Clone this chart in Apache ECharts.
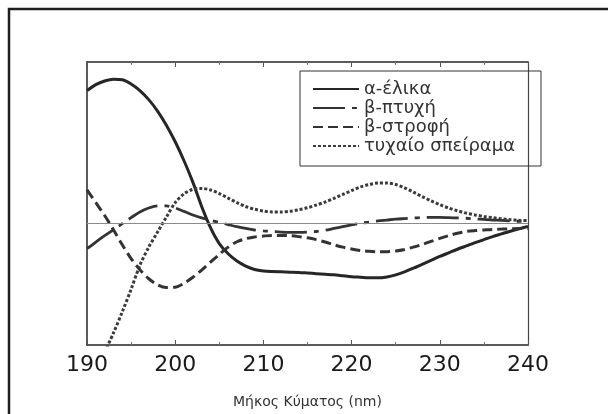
<!DOCTYPE html>
<html lang="el">
<head>
  <meta charset="UTF-8">
  <script src="https://cdn.jsdelivr.net/npm/echarts@6/dist/echarts.min.js"></script>
  <style>
    html, body { margin: 0; padding: 0; background: #fff; }
    #chart { width: 608px; height: 414px; }
  </style>
</head>
<body>
  <div id="chart"></div>
  <script>
    // μήκος κύματος (nm)
    var wavelengths = [190, 191, 192, 193, 194, 195, 196, 197, 198, 199,
                       200, 201, 202, 203, 204, 205, 206, 207, 208, 209,
                       210, 211, 212, 213, 214, 215, 216, 217, 218, 219,
                       220, 221, 222, 223, 224, 225, 226, 227, 228, 229,
                       230, 231, 232, 233, 234, 235, 236, 237, 238, 239, 240];
    var xTicks = [190, 200, 210, 220, 230, 240];

    // τιμές CD (αυθαίρετες μονάδες) διαβασμένες από την εικόνα
    var alphaHelix = [4.4, 4.6, 4.72, 4.78, 4.76, 4.62, 4.4, 4.1, 3.72, 3.25,
                      2.7, 2.07, 1.36, 0.55, -0.15, -0.68, -1.02, -1.26, -1.43, -1.54,
                      -1.59, -1.61, -1.62, -1.63, -1.64, -1.66, -1.68, -1.7, -1.72, -1.75,
                      -1.78, -1.8, -1.82, -1.82, -1.79, -1.72, -1.62, -1.5, -1.37, -1.24,
                      -1.11, -0.99, -0.87, -0.76, -0.65, -0.55, -0.45, -0.36, -0.27, -0.19, -0.11];
    var betaSheet = [-0.85, -0.63, -0.42, -0.22, -0.02, 0.18, 0.37, 0.5, 0.57, 0.57,
                     0.5, 0.39, 0.27, 0.17, 0.09, 0.02, -0.05, -0.12, -0.18, -0.23,
                     -0.26, -0.28, -0.3, -0.31, -0.31, -0.3, -0.28, -0.24, -0.18, -0.12,
                     -0.06, -0.01, 0.03, 0.07, 0.1, 0.13, 0.15, 0.17, 0.18, 0.19,
                     0.19, 0.18, 0.17, 0.16, 0.14, 0.12, 0.1, 0.09, 0.07, 0.06, 0.06];
    var betaTurn = [1.1, 0.68, 0.25, -0.22, -0.72, -1.18, -1.55, -1.85, -2.05, -2.14,
                    -2.13, -2.0, -1.8, -1.56, -1.3, -1.04, -0.8, -0.62, -0.52, -0.46,
                    -0.43, -0.41, -0.41, -0.42, -0.45, -0.49, -0.55, -0.63, -0.72, -0.8,
                    -0.86, -0.91, -0.94, -0.95, -0.95, -0.93, -0.88, -0.8, -0.71, -0.61,
                    -0.51, -0.42, -0.34, -0.28, -0.25, -0.23, -0.21, -0.2, -0.19, -0.18, -0.18];
    var randomCoil = [null, null, -4.3, -3.65, -2.95, -2.2, -1.4, -0.8, -0.3, 0.2,
                      0.68, 0.97, 1.12, 1.15, 1.1, 0.98, 0.83, 0.68, 0.55, 0.46,
                      0.4, 0.37, 0.37, 0.39, 0.44, 0.51, 0.6, 0.7, 0.82, 0.95,
                      1.08, 1.2, 1.28, 1.33, 1.33, 1.28, 1.17, 1.03, 0.88, 0.74,
                      0.61, 0.5, 0.41, 0.33, 0.27, 0.22, 0.18, 0.14, 0.11, 0.09, 0.08];

    var names = ['α-έλικα', 'β-πτυχή', 'β-στροφή', 'τυχαίο σπείραμα'];

    function pairs(vals) {
      var res = [];
      for (var i = 0; i < wavelengths.length; i++) {
        res.push([wavelengths[i], vals[i]]);
      }
      return res;
    }

    var ink = '#262626';
    var font = 'DejaVu Sans';
    var chart = echarts.init(document.getElementById('chart'));

    var axisBase = {
      type: 'value', min: xTicks[0], max: xTicks[xTicks.length - 1], interval: 10,
      axisLine: { show: true, onZero: false, lineStyle: { color: ink, width: 1.5 } },
      axisTick: { show: true, inside: true, length: 5, lineStyle: { color: '#555' } },
      minorTick: { show: true, splitNumber: 2, length: 3, lineStyle: { color: '#777' } },
      splitLine: { show: false }
    };

    var option = {
      backgroundColor: '#fff',
      animation: false,
      graphic: [{
        type: 'rect',
        shape: { x: 9, y: 9, width: 660, height: 460 },
        style: { fill: 'none', stroke: '#1e1e1e', lineWidth: 2.5 }
      }],
      grid: { left: 87, right: 80, top: 62, bottom: 69 },
      legend: {
        data: names,
        orient: 'vertical',
        left: 300, top: 71,
        padding: [9, 26, 11, 12],
        itemWidth: 46, itemHeight: 14, itemGap: 1,
        itemStyle: { opacity: 0 },
        borderColor: '#333', borderWidth: 1, borderRadius: 0,
        textStyle: { fontFamily: font, fontSize: 18, lineHeight: 14, color: '#333' }
      },
      xAxis: [
        Object.assign({}, axisBase, {
          position: 'bottom',
          axisLabel: { show: true, margin: 9, fontFamily: font, fontSize: 22, color: '#1a1a1a' },
          name: 'Μήκος Κύματος (nm)',
          nameLocation: 'middle', nameGap: 50,
          nameTextStyle: { fontFamily: font, fontSize: 14, color: '#333' }
        }),
        Object.assign({}, axisBase, { position: 'top', axisLabel: { show: false } })
      ],
      yAxis: [
        {
          type: 'value', min: -4.05, max: 5.35, position: 'left',
          axisLine: { show: true, onZero: false, lineStyle: { color: ink, width: 1.5 } },
          axisTick: { show: false }, axisLabel: { show: false }, splitLine: { show: false }
        },
        {
          type: 'value', min: -4.05, max: 5.35, position: 'right',
          axisLine: { show: true, onZero: false, lineStyle: { color: '#444', width: 1.2 } },
          axisTick: { show: false }, axisLabel: { show: false }, splitLine: { show: false }
        }
      ],
      series: [
        {
          name: names[0], type: 'line', data: pairs(alphaHelix), smooth: 0.3, symbol: 'none',
          lineStyle: { color: ink, width: 3, type: 'solid' }, itemStyle: { color: ink },
          markLine: {
            silent: true, symbol: 'none', label: { show: false },
            lineStyle: { color: '#8a8a8a', width: 1, type: 'solid' },
            data: [{ yAxis: 0 }]
          }
        },
        {
          name: names[1], type: 'line', data: pairs(betaSheet), smooth: 0.3, symbol: 'none',
          lineStyle: { color: '#333', width: 2.8, type: [32, 7, 5, 7] }, itemStyle: { color: '#333' }
        },
        {
          name: names[2], type: 'line', data: pairs(betaTurn), smooth: 0.3, symbol: 'none',
          lineStyle: { color: '#333', width: 3, type: [10, 5] }, itemStyle: { color: '#333' }
        },
        {
          name: names[3], type: 'line', data: pairs(randomCoil), smooth: 0.3, symbol: 'none',
          lineStyle: { color: '#3a3a3a', width: 3, type: [3, 2] }, itemStyle: { color: '#3a3a3a' }
        }
      ]
    };

    chart.setOption(option);
  </script>
</body>
</html>
